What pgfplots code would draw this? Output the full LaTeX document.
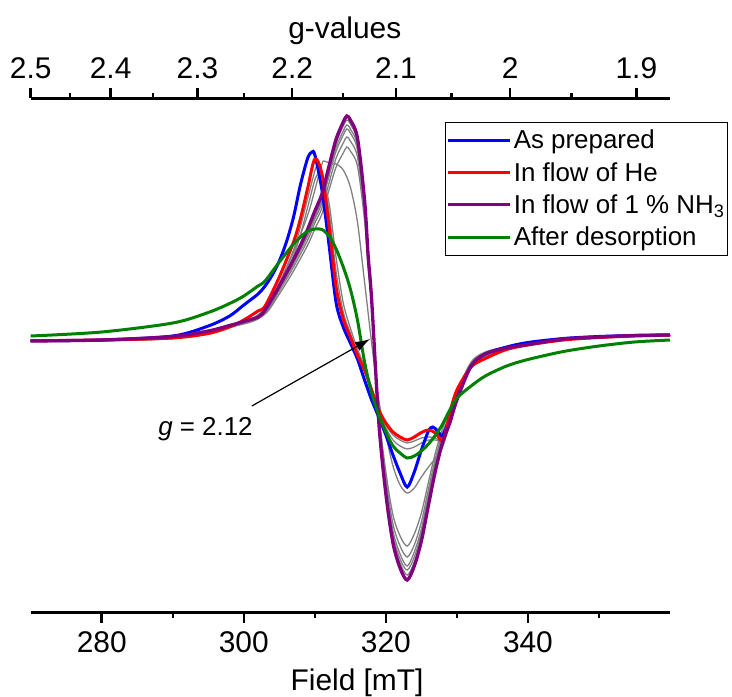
\documentclass[border=0pt]{standalone}
\usepackage{pgfplots}
\pgfplotsset{compat=1.18}
\usepackage{fontspec}
\setmainfont{Liberation Sans}
\usetikzlibrary{arrows.meta}

\definecolor{cblue}{RGB}{0,0,255}
\definecolor{cred}{RGB}{255,0,0}
\definecolor{cpurple}{RGB}{128,0,128}
\definecolor{cgreen}{RGB}{0,128,0}
\definecolor{cgray}{RGB}{128,128,128}

% y values are the negative pixel rows of the reference (arbitrary units)
\pgfplotsset{
  epr/.style={
    width=639.3bp, height=514.4bp, scale only axis,
    xmin=270, xmax=360, ymin=-612.7, ymax=-98.3,
    hide y axis,
    tick align=outside,
    major tick length=10bp, minor tick length=5bp,
    every tick/.style={black, line width=2.5bp},
    axis line style={black, line width=3bp},
    ticklabel style={font=\fontsize{30}{36}\selectfont},
    label style={font=\fontsize{30}{36}\selectfont},
  },
  grayline/.style={cgray, line width=1.3bp, smooth, forget plot},
}

\begin{document}
\begin{tikzpicture}
% top axis: g-values (g*B = 675 mT)
\begin{axis}[epr,
  axis x line*=top,
  xtick={270,281.25,293.478,306.818,321.429,337.5,355.263},
  xticklabels={2.5,2.4,2.3,2.2,2.1,2,1.9},
  minor xtick={275.510,287.234,300,313.953,329.268,346.154},
  xticklabel style={yshift=6bp},
  xlabel={g-values},
  xlabel style={at={(axis description cs:0.5,1)}, anchor=base, yshift=60bp, xshift=-5.6bp},
]
\end{axis}

\begin{axis}[epr,
  axis x line*=bottom,
  xtick={280,300,320,340}, xticklabels={280,300,320,340},
  minor xtick={290,310,330,350},
  xticklabel style={yshift=-5bp},
  xlabel={Field [mT]},
  xlabel style={at={(axis description cs:0.5,0)}, anchor=base, yshift=-77.3bp, xshift=6.7bp},
  legend style={at={(0,1)}, anchor=north west, xshift=414.3bp, yshift=-23.4bp,
    draw=black, line width=1bp, font=\fontsize{26}{30}\selectfont,
    inner xsep=1bp, inner ysep=6bp, row sep=8bp, cells={anchor=west}},
  legend image code/.code={\draw[#1] (0bp,0bp) -- (62bp,0bp);},
]
\coordinate (LL) at (rel axis cs:0,0);
\coordinate (UR) at (rel axis cs:1,1);

% intermediate spectra
\addplot[grayline] coordinates {(270,-341)(290,-338.5)(300,-322)(303,-308)(305,-283)(307,-250)(308,-226)(309,-198)(310,-171)(310.3,-167)(311,-172)(312,-212)(313,-272)(314,-312)(315,-333)(316,-352)(317,-368)(318,-389)(319,-410)(320,-425)(321,-435)(322,-440)(323,-443)(324,-441)(325,-438)(326,-437)(327,-438)(328,-441)(329,-418)(330,-393)(332,-367)(334,-357)(337,-349)(345,-340)(360,-335)};
\addplot[grayline] coordinates {(270,-341)(290,-338.5)(300,-322)(303,-310)(305,-287)(307,-256)(308,-234)(309,-207)(310,-180)(310.6,-173)(311,-175)(312,-203)(313,-258)(314,-303)(315,-328)(316,-349)(317,-367)(318,-389)(319,-411)(320,-428)(321,-440)(322,-446)(323,-449)(324,-447)(325,-443)(326,-440)(327,-440)(328,-440)(329,-419)(330,-394)(332,-367)(334,-356)(337,-349)(345,-340)(360,-335)};
\addplot[grayline] coordinates {(270,-341)(290,-338)(300,-321)(303,-311)(305,-284)(307,-252)(309,-215)(310,-190)(311,-164)(311.3,-161)(312,-163)(313,-164)(314,-170)(315,-187)(316,-222)(317,-282)(318,-343)(319,-400)(320,-435)(321,-466)(322,-485)(323,-493)(324,-488)(325,-477)(326,-467)(327,-458)(328,-447)(329,-424)(330,-400)(332,-367)(334,-355)(337,-348)(345,-339)(360,-335)};
\addplot[grayline] coordinates {(270,-341)(290,-337)(300,-324)(303,-314)(305,-294)(307,-271)(309,-245)(310,-229)(311,-214)(312,-190)(313,-167)(314,-153)(314.5,-147)(315,-151)(316,-166)(317,-220)(317.5,-267)(318,-306)(319,-411)(320,-472)(321,-515)(322,-536)(323,-546)(324,-534)(325,-513)(326,-482)(327,-452)(328,-428)(329,-411)(330,-392)(332,-362)(334,-352)(337,-347)(345,-339)(360,-335)};
\addplot[grayline] coordinates {(270,-341)(290,-337)(300,-323)(303,-313)(305,-291)(307,-267)(309,-240)(310,-223)(311,-208)(312,-183)(313,-158)(314,-143)(314.5,-137)(315,-141)(316,-157)(317,-213)(317.5,-263)(318,-304)(319,-414)(320,-479)(321,-524)(322,-546)(323,-557)(324,-545)(325,-522)(326,-489)(327,-458)(328,-432)(329,-415)(330,-394)(332,-364)(334,-353)(337,-347)(345,-339)(360,-335)};
\addplot[grayline] coordinates {(270,-341)(290,-337)(300,-323)(303,-312)(305,-289)(307,-264)(309,-236)(310,-219)(311,-203)(312,-176)(313,-151)(314,-135)(314.5,-129)(315,-133)(316,-150)(317,-208)(317.5,-260)(318,-302)(319,-417)(320,-485)(321,-531)(322,-554)(323,-566)(324,-552)(325,-529)(326,-495)(327,-462)(328,-436)(329,-418)(330,-396)(332,-364)(334,-353)(337,-348)(345,-339)(360,-335)};
\addplot[grayline] coordinates {(270,-341)(290,-337)(300,-322)(303,-311)(305,-288)(307,-263)(309,-233)(310,-216)(311,-200)(312,-173)(313,-147)(314,-131)(314.5,-125)(315,-129)(316,-146)(317,-206)(317.5,-258)(318,-302)(319,-419)(320,-488)(321,-535)(322,-559)(323,-570)(324,-557)(325,-533)(326,-498)(327,-465)(328,-438)(329,-420)(330,-398)(332,-365)(334,-353)(337,-348)(345,-339)(360,-335)};
\addplot[grayline] coordinates {(270,-341)(290,-337)(300,-322)(303,-311)(305,-287)(307,-261)(309,-231)(310,-214)(311,-197)(312,-170)(313,-143)(314,-126)(314.5,-120)(315,-124)(316,-142)(317,-203)(317.5,-257)(318,-301)(319,-420)(320,-491)(321,-539)(322,-563)(323,-575)(324,-562)(325,-537)(326,-502)(327,-467)(328,-440)(329,-421)(330,-399)(332,-366)(334,-354)(337,-348)(345,-339)(360,-335)};

% As prepared
\addplot[cblue, line width=3bp, smooth] coordinates {(270,-340.7)(280,-340)(290,-336)(295,-326)(298,-316)(300,-305)(302,-294)(303,-286)(304,-275)(305,-261)(306,-242)(307,-217)(308,-184)(309,-158)(309.6,-152)(310,-155)(311,-190)(312,-245)(313,-303)(314,-327)(315,-343)(316,-359)(317,-380)(318,-400)(319,-417)(320,-435)(321,-455)(322,-473)(323,-487)(324,-472)(325,-450)(326,-431)(326.6,-427)(327.3,-431)(327.9,-436)(328.5,-428)(329,-417)(330,-395)(332,-366)(334,-354)(337,-347)(340,-342.5)(345,-338.5)(350,-336.5)(355,-335.5)(360,-335)};
\addlegendentry{As prepared}
% In flow of He
\addplot[cred, line width=3bp, smooth] coordinates {(270,-340.7)(280,-340)(290,-338)(295,-333.5)(298,-327)(300,-320)(302,-311)(303,-306)(305,-277)(307,-242)(308,-218)(309,-188)(310,-159)(311,-174)(312,-226)(313,-287)(314,-319)(315,-337)(316,-355)(317,-370)(318,-390)(319,-410)(320,-423)(321,-432)(322,-437)(323,-440)(324,-437)(325,-432.5)(326,-430)(327,-433)(327.9,-441)(328.5,-430)(329,-413)(330,-390)(332,-367)(334,-358.5)(337,-349.5)(340,-345)(345,-340)(350,-337.5)(355,-336)(360,-335)};
\addlegendentry{In flow of He}
% In flow of 1 % NH3
\addplot[cpurple, line width=3.3bp, smooth] coordinates {(270,-341)(280,-340)(290,-336.5)(295,-331)(298,-325.5)(300,-321.5)(302,-317)(303,-310)(305,-286)(307,-259.5)(308,-245)(309,-229)(310,-211)(311,-194)(312,-166)(313,-139)(314,-122)(314.5,-116)(315,-120)(316,-138)(317,-200)(317.5,-255)(318,-300)(319,-422)(320,-494)(321,-543)(322,-568)(323,-580)(324,-566)(325,-541)(326,-505)(327,-470)(328,-442)(329,-423)(330,-400)(332,-366)(334,-354)(337,-348)(340,-344.5)(345,-339)(350,-337)(355,-335.5)(360,-335)};
\addlegendentry{In flow of 1 \% NH\textsubscript{3}}
% After desorption
\addplot[cgreen, line width=3bp, smooth] coordinates {(270,-336)(280,-332)(290,-323)(295,-312.5)(298,-303.5)(300,-296)(302,-286)(303,-281)(305,-262)(307,-244)(308,-237)(309,-231)(310,-229)(311,-229.5)(312,-236)(313,-249)(314,-267)(315,-289)(316,-320)(317,-362)(318,-393)(319,-415)(320,-432)(321,-446)(322,-453)(323,-458)(324,-456)(325,-451)(326,-444)(327,-435)(328,-424)(329,-410)(330,-398)(332,-386)(334,-376)(337,-366)(340,-359.5)(345,-351.5)(350,-346)(355,-342)(360,-340)};
\addlegendentry{After desorption}

\draw[-{Latex[length=15bp,width=10bp]}, line width=1.2bp] (axis cs:301.13,-406) -- (axis cs:317.79,-339);
\node[anchor=base, font=\fontsize{26}{31}\selectfont] at (axis cs:294.6,-435) {\textit{g} = 2.12};
\end{axis}
\pgfresetboundingbox
\useasboundingbox ([xshift=-30.7bp,yshift=-83.3bp]LL) rectangle ([xshift=62bp,yshift=98.3bp]UR);
\end{tikzpicture}
\end{document}
